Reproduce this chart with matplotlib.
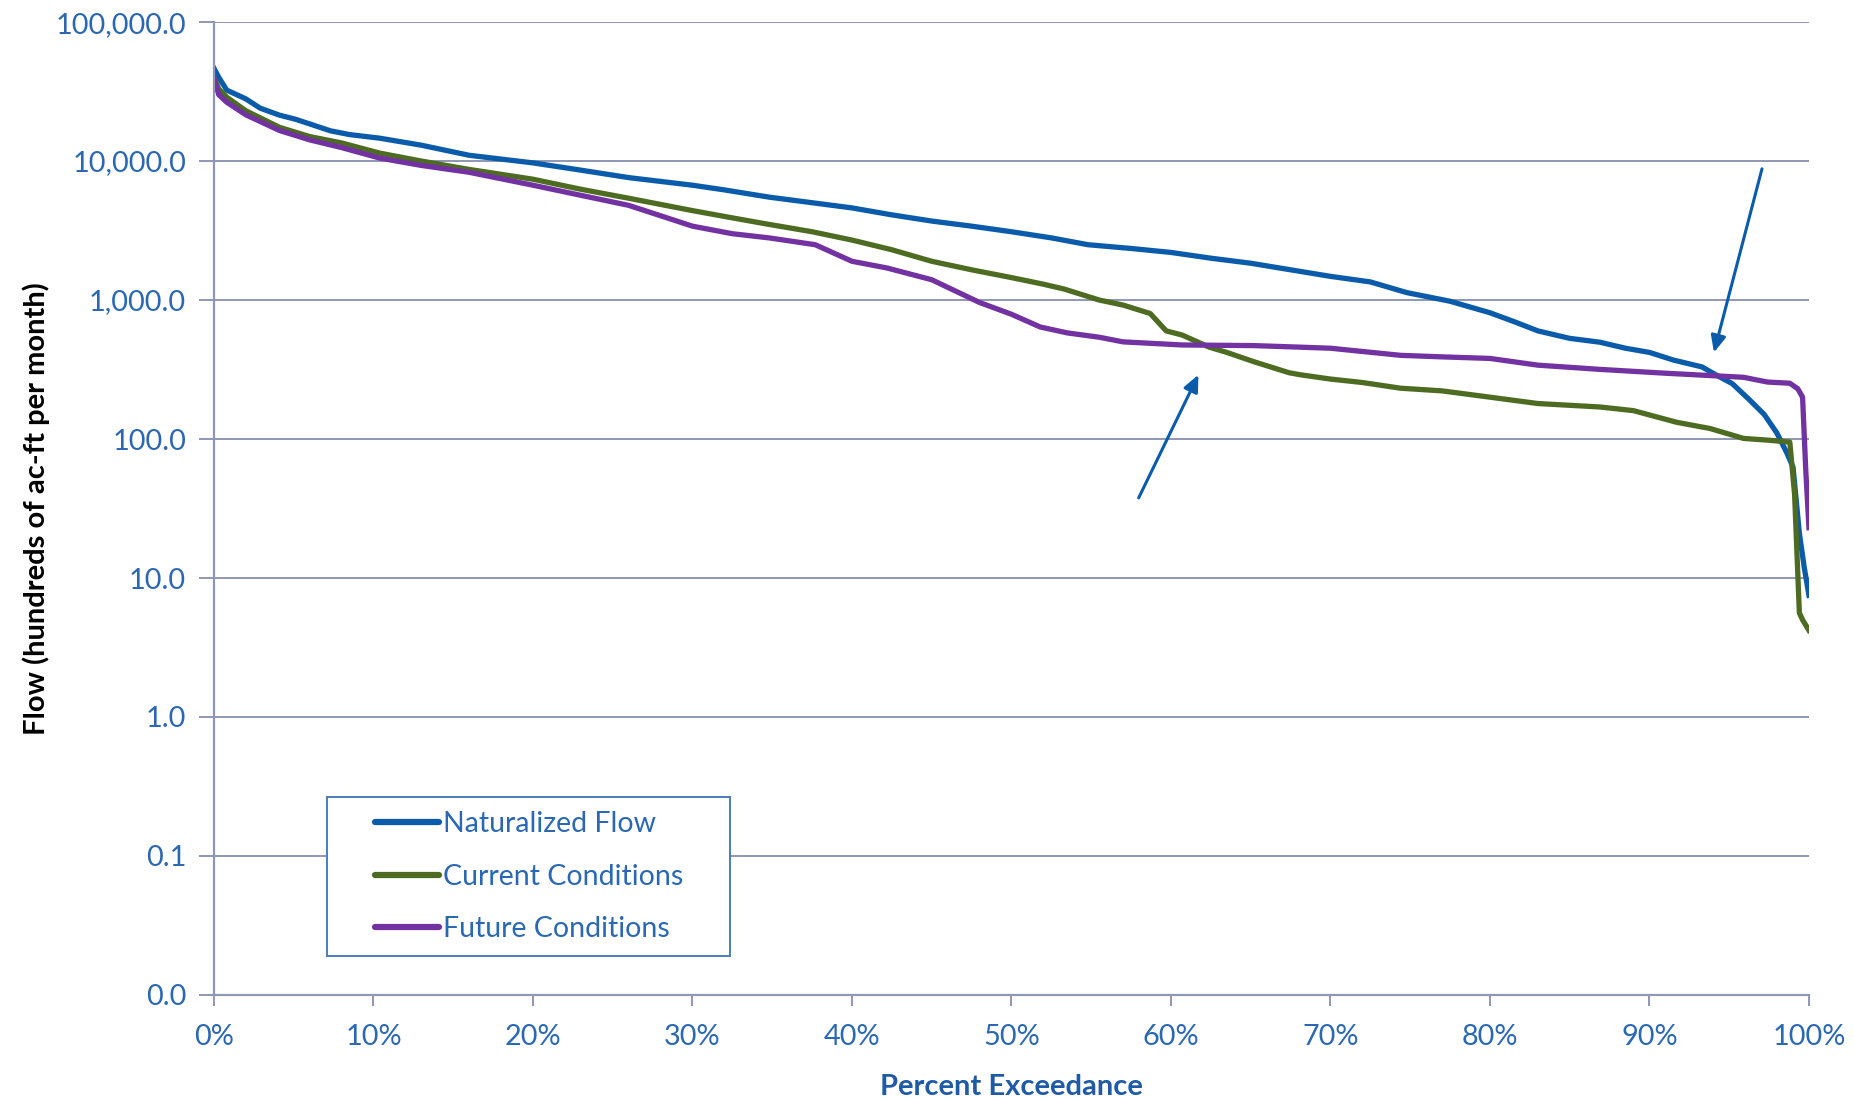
import matplotlib
matplotlib.use("Agg")
import matplotlib.pyplot as plt
from matplotlib.ticker import FixedLocator, FuncFormatter, NullLocator
from matplotlib.patches import Rectangle

plt.rcParams['font.family'] = ['Lato', 'DejaVu Sans']

# flow duration curves, percent exceedance vs flow (hundreds of ac-ft per month)
nat_pct = [0, 0.3, 0.8, 2.0, 2.9, 4.1, 5.1, 6.0, 7.3, 8.5, 10.4, 13, 16, 20, 23, 26, 30, 32, 34.8,
           37, 40, 42.5, 45, 47.5, 50, 52.5, 54.8, 57.5, 60, 62.5, 65, 67.5, 70, 72.5, 74.8, 77.5,
           80, 81.5, 83, 85, 86.9, 88.5, 90, 91.5, 93.3, 94.2, 95.2, 96.3, 97.2, 98.0, 98.6, 99.0,
           99.4, 99.7, 100]
nat_flow = [46500, 40000, 32400, 28000, 24000, 21400, 20000, 18500, 16500, 15500, 14600, 13000,
            11000, 9700, 8600, 7600, 6700, 6200, 5500, 5100, 4600, 4100, 3700, 3400, 3100, 2800,
            2500, 2350, 2200, 2000, 1840, 1650, 1480, 1350, 1130, 980, 810, 700, 600, 530, 497,
            450, 420, 370, 330, 288, 250, 190, 150, 110, 80, 63, 21, 12, 7.5]

cur_pct = [0, 0.3, 0.8, 2.0, 4.1, 6, 8, 10.4, 13, 16, 20, 22.9, 26, 30, 32.5, 34.8, 37.5, 40, 42.5,
           45, 47.5, 50, 52, 53.3, 55.5, 57, 58.7, 59.7, 60.7, 62.4, 63.5, 65.2, 67.4, 68.1, 70, 72,
           74.4, 77, 80, 83, 86.9, 89.0, 91.7, 93.8, 95.9, 97.5, 98.8, 99.1, 99.4, 99.6, 100]
cur_flow = [40000, 33000, 28800, 23000, 17500, 15000, 13500, 11400, 10000, 8700, 7400, 6300, 5400,
            4400, 3900, 3500, 3100, 2700, 2300, 1900, 1650, 1450, 1300, 1200, 1000, 920, 800, 600,
            560, 458, 420, 360, 300, 290, 270, 255, 232, 222, 200, 180, 170, 160, 132, 119, 101,
            98, 95, 40, 5.6, 5.0, 4.2]

fut_pct = [0, 0.3, 0.8, 2.0, 4.1, 6, 8, 10.4, 13, 16, 20, 22.9, 26, 30, 32.5, 34.8, 37.7, 40, 42.2,
           45, 48, 50, 51.8, 53.5, 55.5, 57, 60.7, 65.2, 68.1, 70, 74.4, 77, 80, 83, 86.9, 91.1,
           95.9, 97.4, 98.8, 99.3, 99.6, 99.8, 100]
fut_flow = [39500, 30000, 26500, 21500, 16600, 14200, 12500, 10500, 9300, 8300, 6700, 5700, 4800,
            3400, 3000, 2800, 2500, 1900, 1700, 1400, 960, 790, 640, 580, 540, 500, 475, 470, 458,
            450, 400, 390, 380, 340, 317, 297, 278, 257, 252, 230, 200, 60, 23]

y_ticks = [0.01, 0.1, 1, 10, 100, 1000, 10000, 100000]
x_ticks = [0, 10, 20, 30, 40, 50, 60, 70, 80, 90, 100]

blue = '#0b5bab'
green = '#4e6b22'
purple = '#7332a2'
grid_col = '#8e97b3'
text_col = '#2a68b5'

fig = plt.figure(figsize=(18.54, 10.97), dpi=100)
ax = fig.add_axes([0.1154, 0.0930, 0.8603, 0.8869])

ax.plot(nat_pct, nat_flow, color=blue, lw=3.8, label='Naturalized Flow', solid_joinstyle='round')
ax.plot(cur_pct, cur_flow, color=green, lw=3.8, label='Current Conditions', solid_joinstyle='round')
ax.plot(fut_pct, fut_flow, color=purple, lw=3.8, label='Future Conditions', solid_joinstyle='round')

ax.set_yscale('log')
ax.set_ylim(0.01, 100000)
ax.set_xlim(0, 100)
ax.yaxis.set_major_locator(FixedLocator(y_ticks))
ax.yaxis.set_minor_locator(NullLocator())
ax.yaxis.set_major_formatter(FuncFormatter(lambda v, p: f'{v:,.1f}'))
ax.xaxis.set_major_locator(FixedLocator(x_ticks))
ax.xaxis.set_major_formatter(FuncFormatter(lambda v, p: f'{v:.0f}%'))

ax.grid(axis='y', color=grid_col, lw=1.4)
ax.set_axisbelow(True)
for s in ['top', 'right']:
    ax.spines[s].set_visible(False)
for s in ['left', 'bottom']:
    ax.spines[s].set_color(grid_col)
    ax.spines[s].set_linewidth(1.6)
ax.tick_params(axis='both', colors=grid_col, labelcolor=text_col, labelsize=20.8, width=1.4)
ax.tick_params(axis='y', length=11, pad=9)
ax.tick_params(axis='x', length=8, pad=13)

ax.set_xlabel('Percent Exceedance', fontsize=21, fontweight='bold', color='#1f5aa6', labelpad=17)
ax.set_ylabel('Flow (hundreds of ac-ft per month)', fontsize=21, fontweight='bold', color='black',
              labelpad=4)

# arrows marking the crossover points
ax.annotate('', xy=(61.8, 302), xytext=(57.9, 36.2),
            arrowprops=dict(arrowstyle='-|>,head_length=1.0,head_width=0.45', color=blue, lw=2.2))
ax.annotate('', xy=(94.0, 401), xytext=(97.1, 9190),
            arrowprops=dict(arrowstyle='-|>,head_length=1.0,head_width=0.45', color=blue, lw=2.2))

# legend box drawn separately so its size can be fixed
box = Rectangle((327 / 1854, 1 - 956 / 1097), 403 / 1854, 159 / 1097,
                transform=fig.transFigure, facecolor='white', edgecolor='#4a7ebb',
                lw=1.4, zorder=4, clip_on=False)
ax.add_patch(box)
leg = ax.legend(loc='upper left', bbox_to_anchor=(361 / 1854, 1 - 797 / 1097),
                bbox_transform=fig.transFigure, frameon=False, fontsize=20.5,
                handlelength=2.25, handletextpad=0.12, labelspacing=0.93, borderpad=0)
leg.set_zorder(5)
for t in leg.get_texts():
    t.set_color(text_col)
for h in leg.get_lines():
    h.set_linewidth(4.5)
    h.set_solid_capstyle('round')

fig.savefig('out.png', dpi=100)
